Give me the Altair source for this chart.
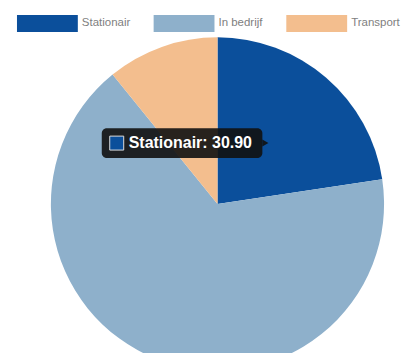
import altair as alt
import pandas as pd

categories = ["Stationair", "In bedrijf", "Transport"]
values = [30.90, 90.80, 14.80]
colors = ["#0b4f9b", "#8eb0cb", "#f3be8e"]
order = [0, 1, 2]

df = pd.DataFrame({"categorie": categories, "waarde": values, "volgorde": order})
tip_df = pd.DataFrame({"label": [f"{categories[0]}: {values[0]:.2f}"]})

legend = alt.Legend(
    title=None,
    orient="none",
    legendX=9,
    legendY=-16,
    direction="horizontal",
    symbolType="M-1,-0.279H1V0.279H-1Z",
    symbolSize=3721,
    symbolStrokeWidth=0,
    symbolOpacity=1,
    labelFontSize=11.5,
    labelFont="Liberation Sans",
    labelColor="#808080",
    labelOffset=4,
    columnPadding=23,
    padding=0,
)

pie = alt.Chart(df).mark_arc(outerRadius=167, strokeWidth=0).encode(
    theta=alt.Theta("waarde:Q", stack=True),
    color=alt.Color("categorie:N", scale=alt.Scale(domain=categories, range=colors), legend=legend),
    order=alt.Order("volgorde:Q"),
    x=alt.value(210),
    y=alt.value(196),
)

tip_box = alt.Chart(tip_df).mark_rect(cornerRadius=5, color="#111111", opacity=0.9).encode(
    x=alt.value(94), x2=alt.value(255), y=alt.value(120), y2=alt.value(150)
)
tip_arrow = alt.Chart(tip_df).mark_point(shape="triangle-right", filled=True, size=50, color="#111111", opacity=0.9).encode(
    x=alt.value(258), y=alt.value(135)
)
tip_square = alt.Chart(tip_df).mark_rect(color=colors[0], stroke="#dddddd", strokeWidth=1).encode(
    x=alt.value(102), x2=alt.value(116), y=alt.value(128), y2=alt.value(142)
)
tip_text = alt.Chart(tip_df).mark_text(
    align="left", baseline="middle", fontSize=16, fontWeight="bold", color="#ffffff", font="Liberation Sans"
).encode(text="label:N", x=alt.value(121), y=alt.value(135))

chart = alt.layer(pie, tip_box, tip_arrow, tip_square, tip_text).properties(
    width=400, height=345, padding=0, autosize=alt.AutoSizeParams(type="none")
).configure_view(stroke=None)

chart.save("out.html", embed_options={"renderer": "svg", "actions": False})
